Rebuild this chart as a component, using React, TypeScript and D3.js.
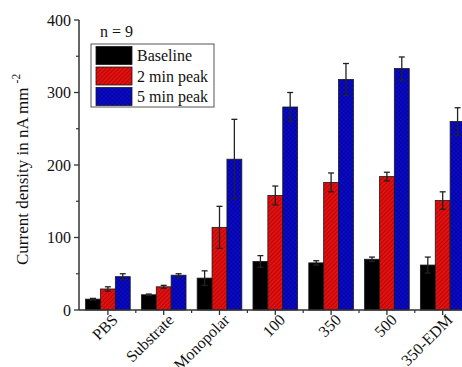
import React, { useEffect, useRef } from 'react';
import * as d3 from 'd3';

const categories = ['PBS', 'Substrate', 'Monopolar', '100', '350', '500', '350-EDM'];
const seriesNames = ['Baseline', '2 min peak', '5 min peak'];
const baseline = [15, 21, 44, 67, 65, 70, 62];
const baselineErr = [1, 1, 10, 8, 3, 3, 11];
const peak2 = [29, 32, 114, 158, 176, 184, 151];
const peak2Err = [3, 2, 29, 13, 13, 6, 12];
const peak5 = [46, 48, 208, 280, 318, 333, 260];
const peak5Err = [4, 2, 55, 20, 22, 16, 19];
const yTicks = [0, 100, 200, 300, 400];
const yMinor = [50, 150, 250, 350];

const W = 462;
const H = 367;

export default function App() {
  const ref = useRef<SVGSVGElement>(null);

  useEffect(() => {
    if (!ref.current) return;
    const svg = d3.select(ref.current);
    svg.selectAll('*').remove();

    const font = '"Liberation Serif", "Times New Roman", serif';
    const x0 = 80;
    const step = 55.8;
    const x = d3.scaleBand().domain(categories).range([x0, x0 + step * categories.length]).paddingInner(0.2).paddingOuter(0.1);
    const xs = d3.scaleBand().domain(seriesNames).range([0, x.bandwidth()]);
    const y = d3.scaleLinear().domain([0, 400]).range([310, 20]);

    // 패턴: 빨강은 사선, 파랑은 격자
    const defs = svg.append('defs');
    const hatch = defs.append('pattern').attr('id', 'hatchRed').attr('patternUnits', 'userSpaceOnUse')
      .attr('width', 3).attr('height', 3).attr('patternTransform', 'rotate(45)');
    hatch.append('rect').attr('width', 3).attr('height', 3).attr('fill', '#e31010');
    hatch.append('line').attr('x1', 0).attr('y1', 0).attr('x2', 0).attr('y2', 3)
      .attr('stroke', '#8a0000').attr('stroke-width', 1);
    const cross = defs.append('pattern').attr('id', 'crossBlue').attr('patternUnits', 'userSpaceOnUse')
      .attr('width', 3).attr('height', 3).attr('patternTransform', 'rotate(45)');
    cross.append('rect').attr('width', 3).attr('height', 3).attr('fill', '#0a0ad0');
    cross.append('line').attr('x1', 0).attr('y1', 0).attr('x2', 0).attr('y2', 3)
      .attr('stroke', '#000066').attr('stroke-width', 0.8);
    cross.append('line').attr('x1', 0).attr('y1', 0).attr('x2', 3).attr('y2', 0)
      .attr('stroke', '#000066').attr('stroke-width', 0.8);

    const fills = ['#000', 'url(#hatchRed)', 'url(#crossBlue)'];
    const series = [
      { name: seriesNames[0], vals: baseline, errs: baselineErr },
      { name: seriesNames[1], vals: peak2, errs: peak2Err },
      { name: seriesNames[2], vals: peak5, errs: peak5Err },
    ];

    const g = svg.append('g');
    series.forEach((s, si) => {
      const bx = (i: number) => (x(categories[i]) ?? 0) + (xs(s.name) ?? 0);
      g.append('g').selectAll('rect').data(s.vals).join('rect')
        .attr('x', (_, i) => bx(i))
        .attr('y', d => y(d))
        .attr('width', xs.bandwidth())
        .attr('height', d => y(0) - y(d))
        .attr('fill', fills[si])
        .attr('stroke', '#1a1a1a')
        .attr('stroke-width', 0.8);

      // 오차 막대
      const eb = g.append('g').attr('stroke', '#222').attr('stroke-width', 1.3);
      s.vals.forEach((v, i) => {
        const cx = bx(i) + xs.bandwidth() / 2;
        const e = s.errs[i];
        eb.append('line').attr('x1', cx).attr('x2', cx).attr('y1', y(v - e)).attr('y2', y(v + e));
        eb.append('line').attr('x1', cx - 3).attr('x2', cx + 3).attr('y1', y(v + e)).attr('y2', y(v + e));
        eb.append('line').attr('x1', cx - 3).attr('x2', cx + 3).attr('y1', y(v - e)).attr('y2', y(v - e));
      });
    });

    // 축
    const axisColor = '#333';
    const ax = svg.append('g');
    ax.append('line').attr('x1', 79).attr('x2', 79).attr('y1', y(0)).attr('y2', y(400))
      .attr('stroke', axisColor).attr('stroke-width', 1.5);
    ax.append('line').attr('x1', 79).attr('x2', W).attr('y1', y(0)).attr('y2', y(0))
      .attr('stroke', axisColor).attr('stroke-width', 1.5);

    yTicks.forEach(t => {
      ax.append('line').attr('x1', 74).attr('x2', 79).attr('y1', y(t)).attr('y2', y(t))
        .attr('stroke', axisColor).attr('stroke-width', 1.3);
      ax.append('text').attr('x', 71).attr('y', y(t)).attr('dy', '0.35em')
        .attr('text-anchor', 'end').attr('font-family', font).attr('font-size', 16)
        .attr('fill', '#111').text(t);
    });
    yMinor.forEach(t => {
      ax.append('line').attr('x1', 76).attr('x2', 79).attr('y1', y(t)).attr('y2', y(t))
        .attr('stroke', axisColor).attr('stroke-width', 1.2);
    });

    categories.forEach((c, i) => {
      const cx = (x(c) ?? 0) + x.bandwidth() / 2;
      ax.append('line').attr('x1', cx).attr('x2', cx).attr('y1', y(0)).attr('y2', y(0) + 5)
        .attr('stroke', axisColor).attr('stroke-width', 1.3);
      const bx = x0 + step * (i + 1);
      if (bx < W) {
        ax.append('line').attr('x1', bx).attr('x2', bx).attr('y1', y(0)).attr('y2', y(0) + 3)
          .attr('stroke', axisColor).attr('stroke-width', 1.2);
      }
      ax.append('text')
        .attr('transform', `translate(${cx + 7},${y(0) + 7}) rotate(-45)`)
        .attr('text-anchor', 'end').attr('dy', '0.35em')
        .attr('font-family', font).attr('font-size', 16).attr('fill', '#111')
        .text(c);
    });

    // y축 제목
    const yl = svg.append('text')
      .attr('transform', 'translate(28,265) rotate(-90)')
      .attr('text-anchor', 'start').attr('font-family', font).attr('font-size', 17).attr('fill', '#111');
    yl.append('tspan').text('Current density in nA mm');
    yl.append('tspan').attr('dx', 4).attr('dy', -8).attr('font-size', 11.5).text('-2');

    // n 표시 + 범례
    svg.append('text').attr('x', 100).attr('y', 37).attr('font-family', font).attr('font-size', 16)
      .attr('fill', '#111').text('n = 9');
    const lg = svg.append('g');
    lg.append('rect').attr('x', 91).attr('y', 44).attr('width', 123).attr('height', 63)
      .attr('fill', '#fff').attr('stroke', '#555').attr('stroke-width', 1);
    seriesNames.forEach((n, i) => {
      const yy = 46.5 + i * 20.5;
      lg.append('rect').attr('x', 96).attr('y', yy).attr('width', 36).attr('height', 18)
        .attr('fill', fills[i]).attr('stroke', '#1a1a1a').attr('stroke-width', 0.8);
      lg.append('text').attr('x', 137).attr('y', yy + 9).attr('dy', '0.35em')
        .attr('font-family', font).attr('font-size', 16).attr('fill', '#111').text(n);
    });
  }, []);

  return (
    <div style={{ position: 'fixed', left: 0, top: 0, width: W, height: H, background: '#fff' }}>
      <svg ref={ref} width={W} height={H} style={{ display: 'block' }} />
    </div>
  );
}
